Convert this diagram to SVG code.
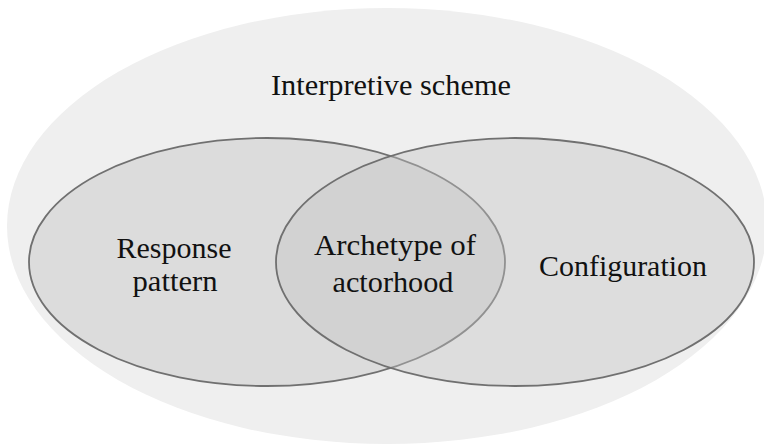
<svg xmlns="http://www.w3.org/2000/svg" width="764" height="444" viewBox="0 0 764 444">
<style>
.t{font-family:"Liberation Serif","Times New Roman",serif;font-size:29px;fill:#111;text-anchor:middle}
.set{stroke:#707070;stroke-width:1.8}
</style>
<rect width="764" height="444" fill="#ffffff"/>
<g id="interpretive-scheme">
<ellipse cx="387" cy="226" rx="380" ry="218" fill="#efefef"/>
<text class="t" x="391" y="95" textLength="240" lengthAdjust="spacingAndGlyphs">Interpretive scheme</text>
</g>
<g id="response-pattern">
<ellipse class="set" cx="267" cy="262" rx="238" ry="124" fill="#dcdcdc"/>
<text class="t" x="174" y="258" textLength="115" lengthAdjust="spacingAndGlyphs">Response</text>
<text class="t" x="175" y="291" textLength="85" lengthAdjust="spacingAndGlyphs">pattern</text>
</g>
<g id="configuration">
<ellipse class="set" cx="515" cy="262" rx="239" ry="124" fill="#c4c4c4" fill-opacity="0.4"/>
<text class="t" x="623" y="276" textLength="168" lengthAdjust="spacingAndGlyphs">Configuration</text>
</g>
<g id="archetype-of-actorhood">
<text class="t" x="395" y="255" textLength="162" lengthAdjust="spacingAndGlyphs">Archetype of</text>
<text class="t" x="393" y="292" textLength="121" lengthAdjust="spacingAndGlyphs">actorhood</text>
</g>
<g id="connectors"></g>
</svg>
